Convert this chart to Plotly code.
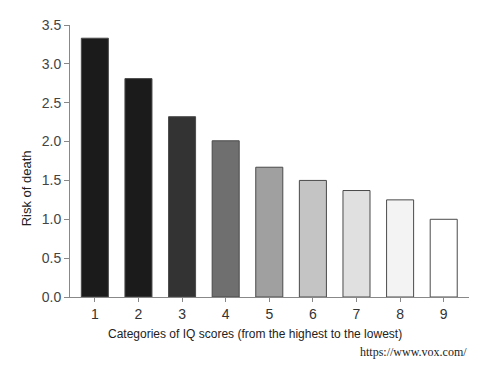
import plotly.graph_objects as go

categories = ["1", "2", "3", "4", "5", "6", "7", "8", "9"]
risk = [3.33, 2.81, 2.32, 2.01, 1.67, 1.50, 1.37, 1.25, 1.00]
bar_colors = ["#1b1b1b", "#1b1b1b", "#333333", "#6f6f6f", "#a0a0a0",
              "#c4c4c4", "#e0e0e0", "#f3f3f3", "#ffffff"]
y_ticks = [0.0, 0.5, 1.0, 1.5, 2.0, 2.5, 3.0, 3.5]

fig = go.Figure(go.Bar(
    x=list(range(1, 10)), y=risk,
    marker=dict(color=bar_colors, line=dict(color="#4a4a4a", width=1)),
    width=0.62,
))

fig.update_layout(
    width=472, height=368,
    margin=dict(l=62, r=11, t=9, b=79),
    plot_bgcolor="white", paper_bgcolor="white",
    showlegend=False,
    font=dict(family="Liberation Sans, Arial, sans-serif", color="#222"),
    xaxis=dict(
        range=[0.43, 9.58], tickmode="array", tickvals=list(range(1, 10)),
        ticktext=categories, showgrid=False, zeroline=False,
        showline=True, linecolor="#888", linewidth=1,
        ticks="outside", ticklen=4, tickcolor="#888",
        tickfont=dict(size=14, color="#333"),
    ),
    yaxis=dict(
        range=[0, 3.5], tickmode="array", tickvals=y_ticks,
        ticktext=[f"{v:.1f}" for v in y_ticks], showgrid=False, zeroline=False,
        showline=True, linecolor="#888", linewidth=1,
        ticks="outside", ticklen=5, tickcolor="#888",
        tickfont=dict(size=14, color="#444"),
    ),
    annotations=[
        dict(text="Categories of IQ scores (from the highest to the lowest)",
             xref="paper", yref="paper", x=0.464, y=-0.136,
             xanchor="center", yanchor="middle", showarrow=False,
             font=dict(size=12, color="#222")),
        dict(text="Risk of death", xref="paper", yref="paper",
             x=-0.110, y=0.40, xanchor="center", yanchor="middle",
             textangle=-90, showarrow=False,
             font=dict(size=13, color="#222")),
        dict(text="https://www.vox.com/", xref="paper", yref="paper",
             x=1.0, y=-0.17, xanchor="right", yanchor="top", showarrow=False,
             font=dict(family="Liberation Serif, Times New Roman, serif", size=12, color="#222")),
    ],
)

fig.write_html("out.html")
